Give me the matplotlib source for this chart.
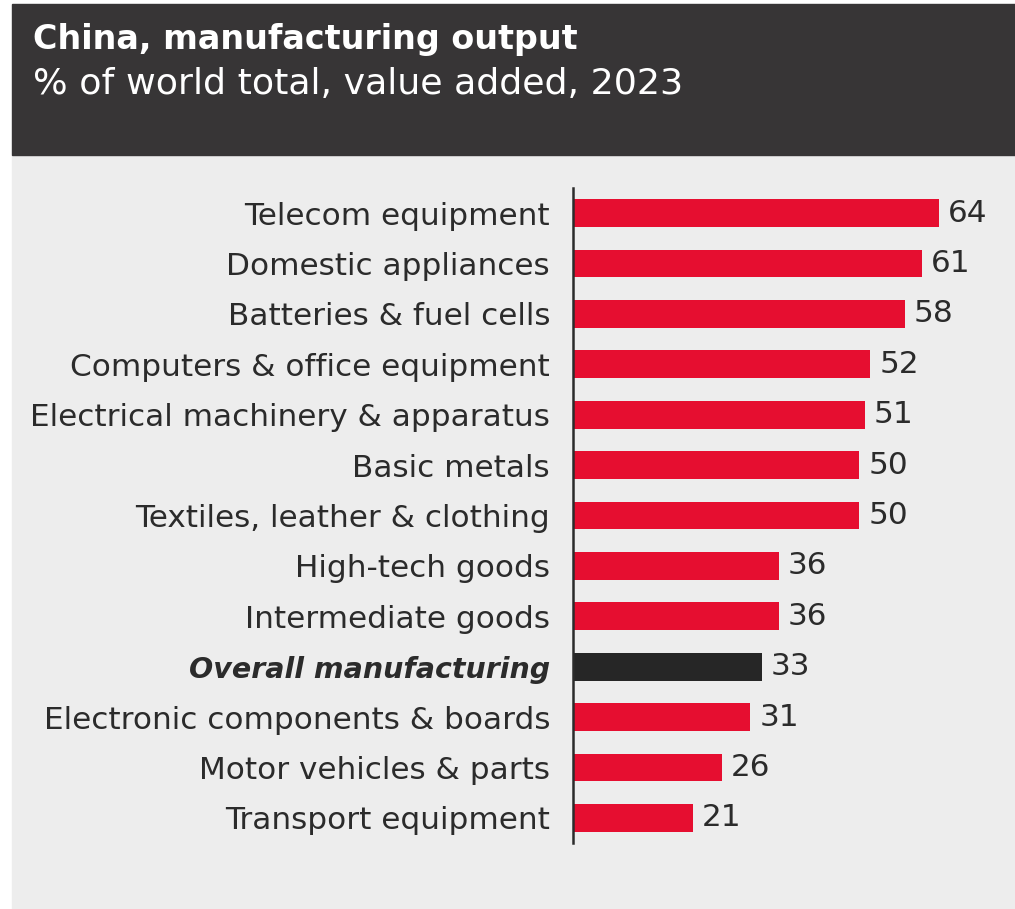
import matplotlib.pyplot as plt
from matplotlib.patches import Rectangle

categories = [
    "Telecom equipment",
    "Domestic appliances",
    "Batteries & fuel cells",
    "Computers & office equipment",
    "Electrical machinery & apparatus",
    "Basic metals",
    "Textiles, leather & clothing",
    "High-tech goods",
    "Intermediate goods",
    "Overall manufacturing",
    "Electronic components & boards",
    "Motor vehicles & parts",
    "Transport equipment",
]
values = [64, 61, 58, 52, 51, 50, 50, 36, 36, 33, 31, 26, 21]
highlight = "Overall manufacturing"

RED = "#e60e30"
DARK = "#262626"
TEXT = "#2b2b2b"
HEADER = "#373536"
PANEL = "#ededed"

plt.rcParams["font.family"] = ["DejaVu Sans"]

W, H = 1015, 909
fig = plt.figure(figsize=(W / 100, H / 100), dpi=100)
fig.patch.set_facecolor("white")

# background panels
fig.add_artist(Rectangle((12 / W, 0), 1 - 12 / W, 1 - 155 / H,
                         transform=fig.transFigure, color=PANEL, zorder=0))
fig.add_artist(Rectangle((12 / W, 1 - 155 / H), 1 - 12 / W, 151 / H,
                         transform=fig.transFigure, color=HEADER, zorder=0))

fig.text(33 / W, 1 - 39 / H, "China, manufacturing output", color="white",
         fontsize=24, fontweight="bold", va="center", ha="left")
fig.text(33 / W, 1 - 84 / H, "% of world total, value added, 2023", color="white",
         fontsize=26.2, va="center", ha="left")

x0 = 573
scale = (939 - 573) / 64.0
xmax = 77
ax = fig.add_axes([x0 / W, 1 - 843 / H, xmax * scale / W, (843 - 188) / H])
ax.set_facecolor("none")

pos = list(range(len(categories)))
colors = [DARK if c == highlight else RED for c in categories]
ax.barh(pos, values, height=0.55, color=colors, zorder=2)
ax.set_ylim(len(categories) - 0.5, -0.5)
ax.set_xlim(0, xmax)

for p, v in zip(pos, values):
    ax.text(v + 1.6, p, str(v), va="center", ha="left", fontsize=22.4, color=TEXT)

ax.set_yticks(pos)
ax.set_yticklabels(categories, fontsize=22.4, color=TEXT)
for lbl in ax.get_yticklabels():
    if lbl.get_text() == highlight:
        lbl.set_fontweight("bold")
        lbl.set_fontstyle("italic")
        lbl.set_fontsize(20.5)
ax.tick_params(axis="y", length=0, pad=16.5)
ax.set_xticks([])
for s in ["top", "right", "bottom"]:
    ax.spines[s].set_visible(False)
ax.spines["left"].set_color(TEXT)
ax.spines["left"].set_linewidth(1.8)

fig.savefig("out.png", dpi=100)
